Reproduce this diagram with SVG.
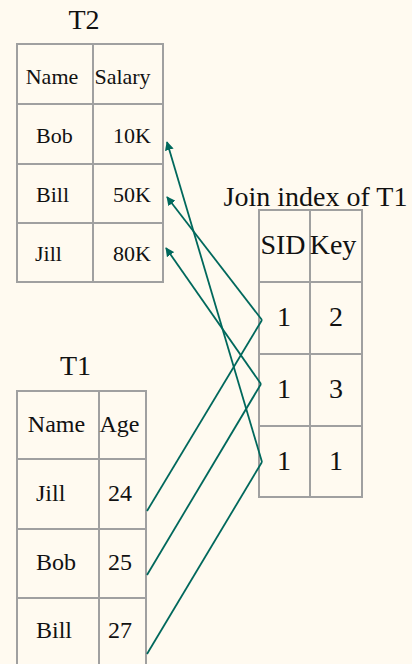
<svg xmlns="http://www.w3.org/2000/svg" width="412" height="664" viewBox="0 0 412 664">
<style>
text{font-family:"Liberation Serif","Times New Roman",serif;fill:#111}
.g{fill:none;stroke:#a0a0a0;stroke-width:2}
.c{fill:none;stroke:#00685c;stroke-width:1.8;stroke-linecap:butt}
.lbl{font-size:28px;text-anchor:middle}
.t2{font-size:22px}
.t1{font-size:24px}
.j{font-size:28px;text-anchor:middle}
.m{text-anchor:middle}
.e{text-anchor:end}
</style>
<defs>
<marker id="ah" viewBox="0 0 10 10" refX="9" refY="5" markerWidth="5" markerHeight="5" orient="auto" markerUnits="strokeWidth">
<path d="M0,0 L10,5 L0,10 z" fill="#00685c"/>
</marker>
</defs>
<rect width="412" height="664" fill="#fffaf0"/>
<g id="T2">
<text class="lbl" x="84" y="29">T2</text>
<rect class="g" x="17" y="44" width="146" height="238"/>
<path class="g" d="M93,44V282M17,104H163M17,164H163M17,223H163"/>
<text class="t2 m" x="52" y="84">Name</text>
<text class="t2 m" x="122.5" y="84">Salary</text>
<text class="t2" x="36" y="143">Bob</text>
<text class="t2 e" x="151" y="143">10K</text>
<text class="t2" x="36" y="202">Bill</text>
<text class="t2 e" x="151" y="202">50K</text>
<text class="t2" x="35" y="261">Jill</text>
<text class="t2 e" x="151" y="261">80K</text>
</g>
<g id="JoinIndex">
<text class="lbl" x="315.5" y="206">Join index of T1</text>
<rect class="g" x="259" y="210" width="103" height="287"/>
<path class="g" d="M310,210V497M259,282H362M259,354H362M259,426H362"/>
<text class="j" x="283" y="254">SID</text>
<text class="j" x="333" y="254">Key</text>
<text class="j" x="284" y="326">1</text>
<text class="j" x="336" y="326">2</text>
<text class="j" x="284" y="398">1</text>
<text class="j" x="336" y="398">3</text>
<text class="j" x="284" y="470">1</text>
<text class="j" x="336" y="470">1</text>
</g>
<g id="T1">
<text class="lbl" x="75.5" y="375">T1</text>
<path class="g" d="M17,670V391H146V670M99,391V670M17,459H146M17,529H146M17,598H146"/>
<text class="t1 m" x="56.5" y="432">Name</text>
<text class="t1 m" x="119.5" y="432">Age</text>
<text class="t1" x="36" y="501">Jill</text>
<text class="t1 m" x="120" y="501">24</text>
<text class="t1" x="36" y="570">Bob</text>
<text class="t1 m" x="120" y="570">25</text>
<text class="t1" x="36" y="638">Bill</text>
<text class="t1 m" x="120" y="638">27</text>
</g>
<g id="connectors">
<line class="c" x1="147" y1="511" x2="262" y2="320"/>
<line class="c" x1="147" y1="575" x2="261" y2="384"/>
<line class="c" x1="147" y1="654" x2="262" y2="462"/>
<line class="c" x1="262" y1="320" x2="167" y2="197" marker-end="url(#ah)"/>
<line class="c" x1="261" y1="384" x2="166" y2="248" marker-end="url(#ah)"/>
<line class="c" x1="262" y1="462" x2="167" y2="142" marker-end="url(#ah)"/>
</g>
</svg>
